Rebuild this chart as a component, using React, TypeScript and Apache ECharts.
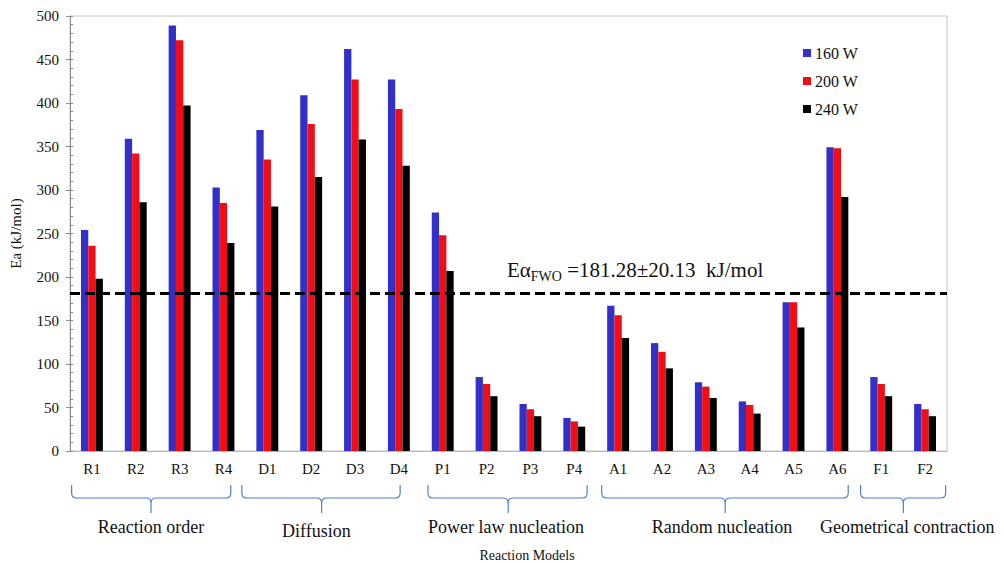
import React, { useEffect, useRef } from "react";
import * as echarts from "echarts";

const categories = ["R1", "R2", "R3", "R4", "D1", "D2", "D3", "D4", "P1", "P2", "P3", "P4", "A1", "A2", "A3", "A4", "A5", "A6", "F1", "F2"];
const seriesNames = ["160 W", "200 W", "240 W"];
const w160 = [254, 359, 489, 303, 369, 409, 462, 427, 274, 85, 54, 38, 167, 124, 79, 57, 171, 349, 85, 54];
const w200 = [236, 342, 472, 285, 335, 376, 427, 393, 248, 77, 48, 34, 156, 114, 74, 53, 171, 348, 77, 48];
const w240 = [198, 286, 397, 239, 281, 315, 358, 328, 207, 63, 40, 28, 130, 95, 61, 43, 142, 292, 63, 40];
const seriesColors = ["#3330c8", "#f20d14", "#000000"];
const yTicks = [0, 50, 100, 150, 200, 250, 300, 350, 400, 450, 500];

// model groups: name, brace start / end / tip in category units (fractional index)
const groupNames = ["Reaction order", "Diffusion", "Power law nucleation", "Random nucleation", "Geometrical contraction"];
const groupStart = [-0.35, 3.51, 7.73, 11.67, 17.54];
const groupEnd = [3.26, 7.1, 11.34, 17.26, 19.47];
const groupTip = [1.45, 5.32, 9.55, 14.47, 18.51];
const groupLabel = [1.45, 5.2, 9.5, 14.4, 18.6];

const eaFWO = 181.28;
const eaErr = 20.13;

const W = 1004;
const H = 563;
const G_LEFT = 65;
const G_RIGHT = 57;
const G_TOP = 16;
const G_BOTTOM = 112;
const SERIF = "Liberation Serif";

export default function App() {
  const ref = useRef<HTMLDivElement>(null);
  useEffect(() => {
    if (!ref.current) return;
    const chart = echarts.init(ref.current, undefined, { renderer: "svg" });
    const gridW = W - G_LEFT - G_RIGHT;
    const gridH = H - G_TOP - G_BOTTOM;
    const xOf = (idx: number) => G_LEFT + (gridW * (idx + 0.5)) / categories.length;
    const yMax = yTicks[yTicks.length - 1];
    const yOf = (v: number) => G_TOP + gridH * (1 - v / yMax);

    const y0 = G_TOP + gridH + 34;
    const ym = y0 + 13;
    const yb = ym + 15;
    const r = 5;
    const graphics: any[] = [];
    groupNames.forEach((name, i) => {
      const x1 = xOf(groupStart[i]);
      const x2 = xOf(groupEnd[i]);
      const cx = xOf(groupTip[i]);
      const d =
        `M${x1} ${y0} L${x1} ${ym - r} Q${x1} ${ym} ${x1 + r} ${ym} L${cx - r} ${ym} Q${cx} ${ym} ${cx} ${ym + r} L${cx} ${yb} ` +
        `M${cx} ${ym + r} Q${cx} ${ym} ${cx + r} ${ym} L${x2 - r} ${ym} Q${x2} ${ym} ${x2} ${ym - r} L${x2} ${y0}`;
      echarts.graphic.registerShape("brace" + i, echarts.graphic.extendPath(d, {}));
      graphics.push({
        type: "brace" + i,
        x: 0,
        y: 0,
        style: { fill: "none", stroke: "#4d7fd1", lineWidth: 1.2 },
        silent: true,
      });
      graphics.push({
        type: "text",
        x: xOf(groupLabel[i]),
        y: i === 1 ? 531 : 527,
        style: {
          text: name,
          fontFamily: SERIF,
          fontSize: 18,
          fill: "#111",
          textAlign: "center",
          textVerticalAlign: "middle",
        },
      });
    });
    graphics.push({
      type: "text",
      x: 527,
      y: 555,
      style: {
        text: "Reaction Models",
        fontFamily: SERIF,
        fontSize: 14,
        fill: "#111",
        textAlign: "center",
        textVerticalAlign: "middle",
      },
    });
    graphics.push({
      type: "text",
      x: 507,
      y: yOf(eaFWO) - 36,
      style: {
        text: `{a|Eα}{s|FWO}{a| =${eaFWO.toFixed(2)}±${eaErr.toFixed(2)}  kJ/mol}`,
        fill: "#111",
        fontFamily: SERIF,
        fontSize: 21,
        rich: {
          a: { fontFamily: SERIF, fontSize: 21, lineHeight: 26, verticalAlign: "middle", fill: "#111" },
          s: { fontFamily: SERIF, fontSize: 14, lineHeight: 14, verticalAlign: "bottom", fill: "#111" },
        },
      },
    });

    const mkSeries = (name: string, data: number[], color: string, withLine: boolean) => {
      const s: any = {
        name,
        type: "bar",
        data,
        barWidth: 7.3,
        barGap: "0%",
        yAxisIndex: 0,
        itemStyle: { color },
      };
      if (withLine) {
        s.markLine = {
          silent: true,
          symbol: ["none", "none"],
          label: { show: false },
          lineStyle: { color: "#000", width: 3, type: [10, 5] },
          data: [{ yAxis: eaFWO }],
          z: 10,
        };
      }
      return s;
    };

    chart.setOption({
      animation: false,
      backgroundColor: "#fff",
      textStyle: { fontFamily: SERIF },
      grid: {
        left: G_LEFT,
        right: G_RIGHT,
        top: G_TOP,
        bottom: G_BOTTOM,
        show: true,
        borderColor: "#c4c4c4",
        borderWidth: 1,
        containLabel: false,
      },
      legend: {
        orient: "vertical",
        left: 798,
        top: 40,
        itemWidth: 8,
        itemHeight: 8,
        itemGap: 12,
        icon: "rect",
        data: seriesNames,
        textStyle: { fontFamily: SERIF, fontSize: 16, color: "#111", padding: [0, 0, 0, -1] },
      },
      xAxis: {
        type: "category",
        data: categories,
        axisLine: { lineStyle: { color: "#b8b8b8", width: 1 } },
        axisTick: { show: false },
        axisLabel: { fontFamily: SERIF, fontSize: 15, color: "#111", margin: 10 },
        splitLine: { show: false },
      },
      yAxis: [
        {
          type: "value",
          min: 0,
          max: 500,
          interval: 50,
          name: "Ea (kJ/mol)",
          nameLocation: "middle",
          nameRotate: 90,
          nameGap: 47,
          nameTextStyle: { fontFamily: SERIF, fontSize: 15, color: "#111" },
          axisLine: { show: true, lineStyle: { color: "#8c8c8c", width: 1 } },
          axisTick: { show: true, length: 4, lineStyle: { color: "#8c8c8c" } },
          axisLabel: { fontFamily: SERIF, fontSize: 15, color: "#111", margin: 11 },
          splitLine: { show: false },
        },
        {
          type: "value",
          min: 0,
          max: 500,
          interval: 10,
          position: "left",
          offset: 0,
          axisLine: { show: false },
          axisTick: { show: true, inside: true, length: 3, lineStyle: { color: "#8c8c8c" } },
          axisLabel: { show: false },
          splitLine: { show: false },
        },
      ],
      series: [
        mkSeries(seriesNames[0], w160, seriesColors[0], false),
        mkSeries(seriesNames[1], w200, seriesColors[1], false),
        mkSeries(seriesNames[2], w240, seriesColors[2], true),
      ],
      graphic: graphics,
    });
    return () => chart.dispose();
  }, []);
  return <div ref={ref} style={{ position: "fixed", left: 0, top: 0, width: W, height: H }} />;
}
